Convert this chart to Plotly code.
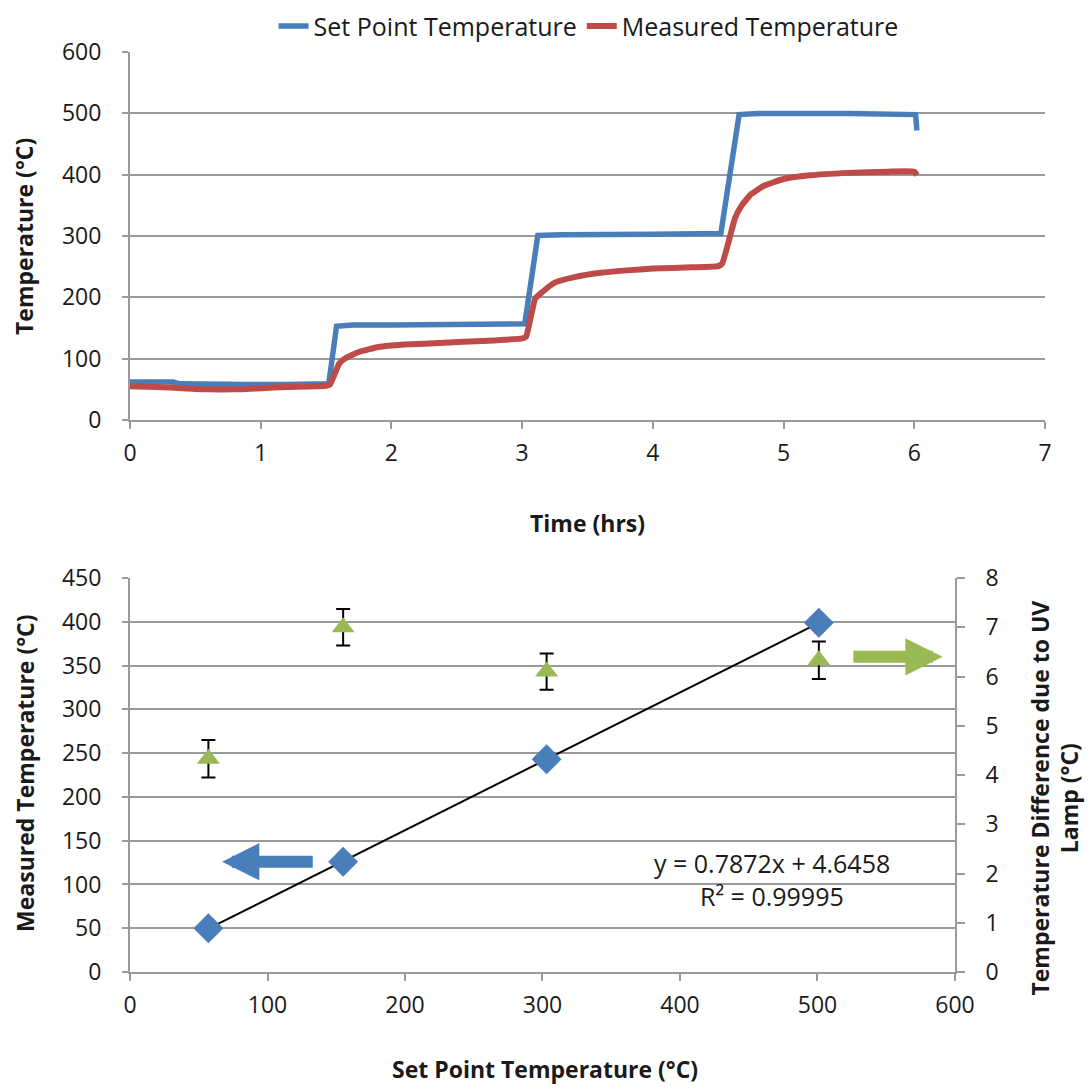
import numpy as np
import plotly.graph_objects as go

# ---------------- Top chart data ----------------
time_sp = [0, 0.1, 0.2, 0.33, 0.38, 0.6, 0.9, 1.2, 1.5, 1.52, 1.58, 1.7, 2.0, 2.5, 3.0, 3.02,
           3.12, 3.3, 4.0, 4.5, 4.52, 4.66, 4.8, 5.5, 6.0, 6.01, 6.02]
temp_sp = [62, 62, 62, 62, 59, 58, 58, 58, 58, 59, 153, 155, 155, 156, 157, 157,
           301, 302, 303, 303, 304, 498, 500, 500, 500, 498, 472]

time_meas = [0, 0.2, 0.4, 0.6, 0.8, 1.0, 1.2, 1.5, 1.53, 1.6, 1.65, 1.75, 1.9, 2.1, 2.4, 2.7,
             3.0, 3.03, 3.1, 3.15, 3.25, 3.4, 3.6, 3.8, 4.0, 4.3, 4.5, 4.53, 4.63, 4.68,
             4.75, 4.85, 5.0, 5.2, 5.5, 5.8, 6.0, 6.02]
temp_meas = [55, 54, 52, 50, 50, 52, 54, 56, 58, 92, 101, 111, 119, 123, 126, 129,
             133, 136, 198, 208, 224, 233, 240, 244, 247, 249, 251, 255, 330, 350,
             368, 382, 393, 399, 403, 405, 405, 399]

# ---------------- Bottom chart data ----------------
set_point = [57, 155, 303, 501]
measured = [50, 126, 243, 399]
uv_diff = [4.33, 7.0, 6.1, 6.33]
uv_err = [0.38, 0.37, 0.37, 0.38]

fit_text = "y = 0.7872x + 4.6458"
r2_text = "R² = 0.99995"

BLUE = "#4a7ebb"
RED = "#be4b48"
GREEN = "#98b954"
GRID = "#9a9a9a"
FONT = "Open Sans"
TXT = "#1a1a1a"

fig = go.Figure()

fig.add_trace(go.Scatter(x=time_sp, y=temp_sp, mode="lines", name="Set Point Temperature",
                         line=dict(color=BLUE, width=5.5), xaxis="x", yaxis="y"))
fig.add_trace(go.Scatter(x=time_meas, y=temp_meas, mode="lines", name="Measured Temperature",
                         line=dict(color=RED, width=6, shape="spline", smoothing=0.4),
                         xaxis="x", yaxis="y"))

# trendline computed from the data
coef = np.polyfit(set_point, measured, 1)
fit_x = [min(set_point), max(set_point)]
fit_y = [coef[0] * v + coef[1] for v in fit_x]
fig.add_trace(go.Scatter(x=fit_x, y=fit_y, mode="lines", line=dict(color="black", width=2),
                         showlegend=False, xaxis="x2", yaxis="y2"))
fig.add_trace(go.Scatter(x=set_point, y=measured, mode="markers", showlegend=False,
                         marker=dict(symbol="diamond", size=23, color=BLUE),
                         xaxis="x2", yaxis="y2"))
fig.add_trace(go.Scatter(x=set_point, y=uv_diff, mode="markers", showlegend=False,
                         marker=dict(symbol="triangle-up", size=20, color=GREEN),
                         error_y=dict(type="data", array=uv_err, color="black", thickness=2, width=7),
                         xaxis="x2", yaxis="y3"))

tick_font = dict(family=FONT, size=23, color=TXT)
title_font = dict(family=FONT, size=23, color=TXT, weight="bold")

common = dict(showline=True, linecolor=GRID, linewidth=2, ticks="outside",
              tickcolor=GRID, tickwidth=2, zeroline=False, tickfont=tick_font,
              automargin=False)

fig.update_layout(
    width=1090, height=1089,
    margin=dict(l=0, r=0, t=0, b=0, autoexpand=False),
    paper_bgcolor="white", plot_bgcolor="white",
    font=dict(family=FONT, color=TXT),
    showlegend=True,
    legend=dict(orientation="h", x=0.54, xanchor="center", y=0.997, yanchor="top",
                font=dict(family=FONT, size=25, color=TXT), bgcolor="rgba(0,0,0,0)"),
    xaxis=dict(domain=[0.1193, 0.9587], anchor="y", range=[0, 7], dtick=1,
               showgrid=False, ticklen=7, ticklabelstandoff=4, **common),
    yaxis=dict(domain=[0.6143, 0.9522], anchor="x", range=[0, 600], dtick=100,
               showgrid=True, gridcolor=GRID, gridwidth=2, ticklen=6, ticklabelstandoff=16,
               **common),
    xaxis2=dict(domain=[0.1193, 0.8761], anchor="y2", range=[0, 600], dtick=100,
                showgrid=False, ticklen=7, ticklabelstandoff=4, **common),
    yaxis2=dict(domain=[0.1074, 0.4692], anchor="x2", range=[0, 450], dtick=50,
                showgrid=True, gridcolor=GRID, gridwidth=2, ticklen=6, ticklabelstandoff=16,
                **common),
    yaxis3=dict(domain=[0.1074, 0.4692], anchor="x2", overlaying="y2", side="right",
                range=[0, 8], dtick=1, showgrid=False, ticklen=8, ticklabelstandoff=16,
                **common),
)

# axis titles
def title(text, x, y, angle=0):
    fig.add_annotation(x=x, y=y, xref="paper", yref="paper", text=text, showarrow=False,
                       textangle=angle, font=title_font, xanchor="center", yanchor="middle")

title("Temperature (°C)", 0.022, 0.7833, -90)
title("Time (hrs)", 0.5394, 0.5197)
title("Measured Temperature (°C)", 0.0229, 0.2902, -90)
title("Temperature Difference due to UV<br>Lamp (°C)", 0.9675, 0.2672, -90)
title("Set Point Temperature (°C)", 0.5, 0.0185)

fig.add_annotation(x=467, y=0.2075, xref="x2", yref="paper", text=fit_text, showarrow=False,
                   font=dict(family=FONT, size=25, color=TXT), xanchor="center", yanchor="middle")
fig.add_annotation(x=467, y=0.1770, xref="x2", yref="paper", text=r2_text, showarrow=False,
                   font=dict(family=FONT, size=25, color=TXT), xanchor="center", yanchor="middle")

# arrows indicating which axis each series uses
fig.add_annotation(x=67, y=126, xref="x2", yref="y2", ax=134, ay=126, axref="x2", ayref="y2",
                   text="", showarrow=True, arrowhead=2, arrowsize=0.62, arrowwidth=12,
                   arrowcolor=BLUE)
fig.add_annotation(x=591, y=6.4, xref="x2", yref="y3", ax=525, ay=6.4, axref="x2", ayref="y3",
                   text="", showarrow=True, arrowhead=2, arrowsize=0.62, arrowwidth=12,
                   arrowcolor=GREEN)

fig.write_html("out.html", config={"displayModeBar": False},
               post_script="document.body.style.margin='0';document.body.style.overflow='hidden';")
